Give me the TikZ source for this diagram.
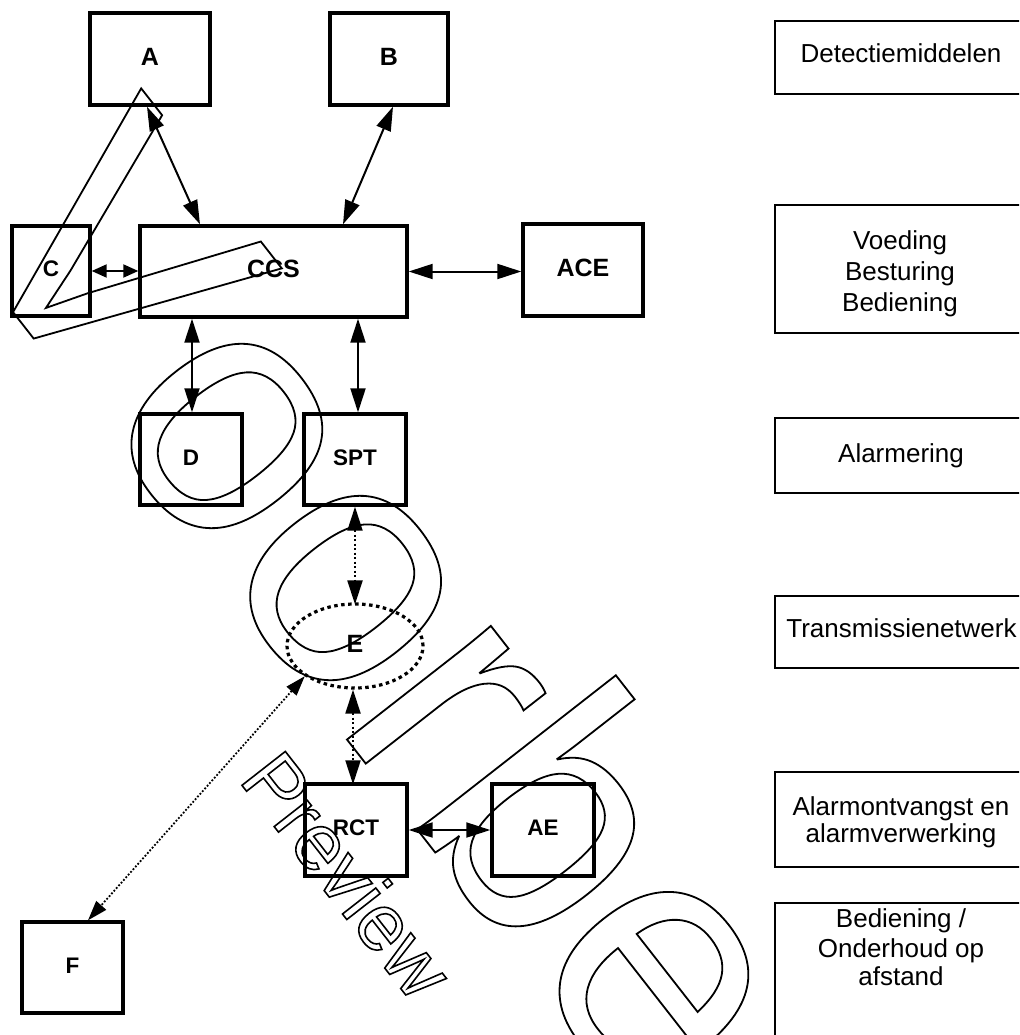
\documentclass[tikz,border=0pt]{standalone}
\usepackage{fontspec}
\setmainfont{Liberation Sans}
\newfontfamily\wmfont[Kerning=Off]{Liberation Sans}
\usetikzlibrary{arrows.meta,shapes.geometric,calc}
\tikzset{
  box/.style={draw, line width=3.4pt, inner sep=0pt, font=\fontsize{25}{30}\selectfont\bfseries, text depth=5pt},
  sbox/.style={box, font=\fontsize{22.5}{27}\selectfont\bfseries, text depth=4pt},
  layer/.style={draw, line width=2pt, inner sep=0pt, minimum width=255pt},
  ltext/.style={anchor=base, inner sep=0pt, font=\fontsize{26}{30}\selectfont},
  dbl/.style={line width=2pt, {Triangle[length=24pt,width=15pt]}-{Triangle[length=24pt,width=15pt]}},
  sdbl/.style={line width=2pt, {Triangle[length=15pt,width=13pt]}-{Triangle[length=15pt,width=13pt]}},
  dotl/.style={dbl, dash pattern=on 2pt off 2.5pt},
  fdotl/.style={line width=1.8pt, dash pattern=on 1.8pt off 1.8pt, {Triangle[length=20pt,width=13pt]}-{Triangle[length=20pt,width=13pt]}},
  wm/.style={inner sep=0pt, anchor=base west, rotate=-52},
}
\begin{document}
\begin{tikzpicture}[x=1pt,y=-1pt]
\useasboundingbox (0,0) rectangle (1019,1035);
\clip (0,0) rectangle (1019,1035);
% main boxes
\node[box, minimum width=120pt, minimum height=92pt] (A) at (150,59) {A};
\node[box, minimum width=118pt, minimum height=92pt] (B) at (389,59) {B};
\node[sbox, minimum width=78pt, minimum height=90pt] (C) at (51,271) {C};
\node[box, minimum width=267pt, minimum height=91pt] (CCS) at (273.5,271.5) {CCS};
\node[box, minimum width=120pt, minimum height=92pt] (ACE) at (583,270) {ACE};
\node[sbox, minimum width=102pt, minimum height=91pt] (D) at (191,459.5) {D};
\node[sbox, minimum width=102pt, minimum height=91pt] (SPT) at (355,459.5) {SPT};
\node[ellipse, draw, line width=3.2pt, dash pattern=on 3.5pt off 3.5pt, minimum width=136pt, minimum height=84pt, inner sep=0pt, font=\fontsize{25}{30}\selectfont\bfseries, text depth=5pt] (E) at (355,646) {E};
\node[sbox, minimum width=102pt, minimum height=92pt] (RCT) at (356,830) {RCT};
\node[sbox, minimum width=102pt, minimum height=92pt] (AE) at (543,830) {AE};
\node[sbox, minimum width=101pt, minimum height=91pt] (F) at (72.5,967.5) {F};
% layer column
\node[layer, minimum height=73pt] (L1) at (902.5,57.5) {};
\node[layer, minimum height=128pt] (L2) at (902.5,269) {};
\node[layer, minimum height=75pt] (L3) at (902.5,455.5) {};
\node[layer, minimum height=72pt] (L4) at (902.5,632) {};
\node[layer, minimum height=95pt] (L5) at (902.5,819.5) {};
\node[layer, minimum height=160pt] (L6) at (902.5,983) {};
\node[ltext] (t1) at (901,63) {Detectiemiddelen};
\node[ltext] (t2a) at (900,249) {Voeding};
\node[ltext] (t2b) at (900,280) {Besturing};
\node[ltext] (t2c) at (900,311) {Bediening};
\node[ltext] (t3) at (901,462) {Alarmering};
\node[ltext] (t4) at (901.5,637) {Transmissienetwerk};
\node[ltext] (t5a) at (901,815) {Alarmontvangst en};
\node[ltext] (t5b) at (901,842) {alarmverwerking};
\node[ltext] (t6a) at (901,927) {Bediening /};
\node[ltext] (t6b) at (901,957) {Onderhoud op};
\node[ltext] (t6c) at (901,985) {afstand};
% connectors
\draw[dbl] ([xshift=-3pt]A.south) -- ([xshift=-73.5pt]CCS.north);
\draw[dbl] ([xshift=4pt]B.south) -- ([xshift=69.5pt]CCS.north);
\draw[sdbl] (C.east) -- (C.east -| CCS.west);
\draw[dbl] (CCS.east) -- (CCS.east -| ACE.west);
\draw[dbl] ([xshift=1pt]D.north |- CCS.south) -- ([xshift=1pt]D.north);
\draw[dbl] ([xshift=3pt]SPT.north |- CCS.south) -- ([xshift=3pt]SPT.north);
\draw[dotl] (SPT.south) -- ([yshift=-2pt]E.north);
\draw[dotl] ([xshift=-2pt]E.south) -- ([xshift=-3pt,yshift=-2pt]RCT.north);
\draw[fdotl] (E.211) -- ([xshift=15.5pt]F.north);
\draw[dbl] (RCT.east) -- (AE.west);
% watermark
\node[wm, font=\wmfont\fontsize{347}{347}\selectfont] (wm1) at (-48,234) {\special{pdf:literal direct 1 Tr 1.8 w}Voorbeeld\special{pdf:literal direct 0 Tr}};
\node[wm, font=\wmfont\fontsize{80}{80}\selectfont] (wm2) at (237.8,780) {\special{pdf:literal direct 1 Tr 1.6 w}Preview\special{pdf:literal direct 0 Tr}};
\end{tikzpicture}
\end{document}
